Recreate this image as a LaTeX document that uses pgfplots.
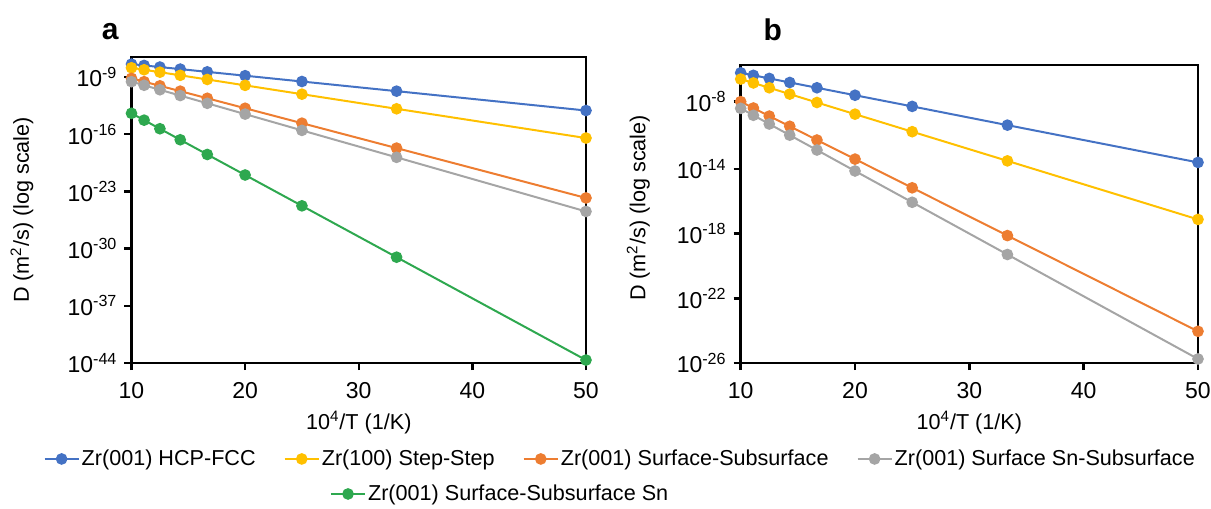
\documentclass[border=0pt]{standalone}
\usepackage{pgfplots}
\pgfplotsset{compat=1.18}
\usepackage{fontspec}
\setmainfont{Liberation Sans}
\definecolor{cblue}{HTML}{4472C4}
\definecolor{cyellow}{HTML}{FFC000}
\definecolor{corange}{HTML}{ED7D31}
\definecolor{cgrey}{HTML}{A5A5A5}
\definecolor{cgreen}{HTML}{2EA84F}
\tikzset{ser/.style={color=#1, line width=1pt, mark=*, mark size=2.4pt, mark options={solid, fill=#1}}}
\begin{document}
\begin{tikzpicture}
\path[use as bounding box] (0,0) rectangle (605.5pt,254.5pt);
% Panel a
\begin{axis}[at={(65.75pt,73pt)}, anchor=south west,
  scale only axis, width=227.25pt, height=153pt,
  xmin=10, xmax=50, ymode=log,
  xtick={10,20,30,40,50},
  /pgf/number format/assume math mode=true,
  axis line style={line width=1.2pt, black},
  major tick style={black, line width=1.2pt},
  tick align=outside, major tick length=3.5pt,
  xtick pos=bottom, ytick pos=left,
  yminorticks=false,
  tick label style={font=\fontsize{11.5}{13}\selectfont},
  xticklabel style={yshift=-2.5pt},
  label style={font=\fontsize{10.8}{13}\selectfont},
  xlabel={10\textsuperscript{4}/T (1/K)},
  ylabel={D (m\textsuperscript{2}/s) (log scale)},
  clip=false,
  legend cell align=left,
  ymin=1e-44, ymax=2.82e-7,
  ytick={1e-44,1e-37,1e-30,1e-23,1e-16,1e-9},
  yticklabels={10\textsuperscript{-44},10\textsuperscript{-37},10\textsuperscript{-30},10\textsuperscript{-23},10\textsuperscript{-16},10\textsuperscript{-9}},
  xlabel style={at={(axis description cs:0.5,-0.196)}, anchor=center},
  ylabel style={at={(axis description cs:-0.241,0.5)}, anchor=center},
  legend style={draw=none, fill=none, font=\fontsize{10.8}{13}\selectfont, inner sep=0pt, nodes={inner sep=1pt}, at={(axis description cs:0.811,-0.428)}, anchor=center},
]
\addplot[ser=cblue, forget plot] coordinates {(10,3.80e-8) (11.11,2.63e-8) (12.5,1.66e-8) (14.29,9.33e-9) (16.67,4.27e-9) (20,1.45e-9) (25,2.82e-10) (33.33,1.86e-11) (50,7.94e-14)};
\addplot[ser=cyellow, forget plot] coordinates {(10,1.35e-8) (11.11,7.76e-9) (12.5,3.89e-9) (14.29,1.62e-9) (16.67,5.01e-10) (20,9.55e-11) (25,7.94e-12) (33.33,1.29e-13) (50,3.39e-17)};
\addplot[ser=corange, forget plot] coordinates {(10,6.92e-10) (11.11,2.69e-10) (12.5,8.41e-11) (14.29,1.86e-11) (16.67,2.51e-12) (20,1.51e-13) (25,2.24e-15) (33.33,2.0e-18) (50,1.58e-24)};
\addplot[ser=cgrey, forget plot] coordinates {(10,2.69e-10) (11.11,9.77e-11) (12.5,2.75e-11) (14.29,5.37e-12) (16.67,6.03e-13) (20,2.88e-14) (25,2.95e-16) (33.33,1.48e-19) (50,3.55e-26)};
\addplot[ser=cgreen] coordinates {(10,3.63e-14) (11.11,5.25e-15) (12.5,4.68e-16) (14.29,2.09e-17) (16.67,3.31e-19) (20,1.02e-21) (25,1.72e-25) (33.33,8.91e-32) (50,2.29e-44)};
\addlegendentry{Zr(001) Surface-Subsurface Sn}
\node[font=\fontsize{15}{18}\selectfont\bfseries] at (axis description cs:-0.047,1.082) {a};
\end{axis}
% Panel b
\begin{axis}[at={(370.35pt,73pt)}, anchor=south west,
  scale only axis, width=228.65pt, height=149pt,
  xmin=10, xmax=50, ymode=log,
  xtick={10,20,30,40,50},
  /pgf/number format/assume math mode=true,
  axis line style={line width=1.2pt, black},
  major tick style={black, line width=1.2pt},
  tick align=outside, major tick length=3.5pt,
  xtick pos=bottom, ytick pos=left,
  yminorticks=false,
  tick label style={font=\fontsize{11.5}{13}\selectfont},
  xticklabel style={yshift=-2.5pt},
  label style={font=\fontsize{10.8}{13}\selectfont},
  xlabel={10\textsuperscript{4}/T (1/K)},
  ylabel={D (m\textsuperscript{2}/s) (log scale)},
  clip=false,
  legend cell align=left,
  ymin=1e-26, ymax=2.69e-8,
  ytick={1e-26,1e-22,1e-18,1e-14,1.5e-10},
  yticklabels={10\textsuperscript{-26},10\textsuperscript{-22},10\textsuperscript{-18},10\textsuperscript{-14},10\textsuperscript{-8}},
  xlabel style={at={(axis description cs:0.5,-0.201)}, anchor=center},
  ylabel style={at={(axis description cs:-0.224,0.52)}, anchor=center},
  legend columns=4,
  legend style={draw=none, fill=none, font=\fontsize{10.8}{13}\selectfont, inner sep=0pt, nodes={inner sep=1pt}, at={(axis description cs:-0.2635,-0.322)}, anchor=center, /tikz/every even column/.append style={column sep=13pt}},
]
\addplot[ser=cblue] coordinates {(10,8.81e-9) (11.11,6.18e-9) (12.5,3.98e-9) (14.29,2.24e-9) (16.67,1.05e-9) (20,3.63e-10) (25,7.41e-11) (33.33,5.13e-12) (50,2.54e-14)};
\addlegendentry{Zr(001) HCP-FCC}
\addplot[ser=cyellow] coordinates {(10,3.63e-9) (11.11,2.09e-9) (12.5,1.05e-9) (14.29,4.27e-10) (16.67,1.29e-10) (20,2.45e-11) (25,2.02e-12) (33.33,3.16e-14) (50,7.59e-18)};
\addlegendentry{Zr(100) Step-Step}
\addplot[ser=corange] coordinates {(10,1.45e-10) (11.11,5.89e-11) (12.5,1.86e-11) (14.29,4.37e-12) (16.67,6.17e-13) (20,4.07e-14) (25,6.84e-16) (33.33,7.59e-19) (50,9.12e-25)};
\addlegendentry{Zr(001) Surface-Subsurface}
\addplot[ser=cgrey] coordinates {(10,5.62e-11) (11.11,2.09e-11) (12.5,6.03e-12) (14.29,1.23e-12) (16.67,1.48e-13) (20,7.50e-15) (25,8.71e-17) (33.33,5.13e-20) (50,1.78e-26)};
\addlegendentry{Zr(001) Surface Sn-Subsurface}
\node[font=\fontsize{15}{18}\selectfont\bfseries] at (axis description cs:0.07,1.117) {b};
\end{axis}
\end{tikzpicture}
\end{document}
